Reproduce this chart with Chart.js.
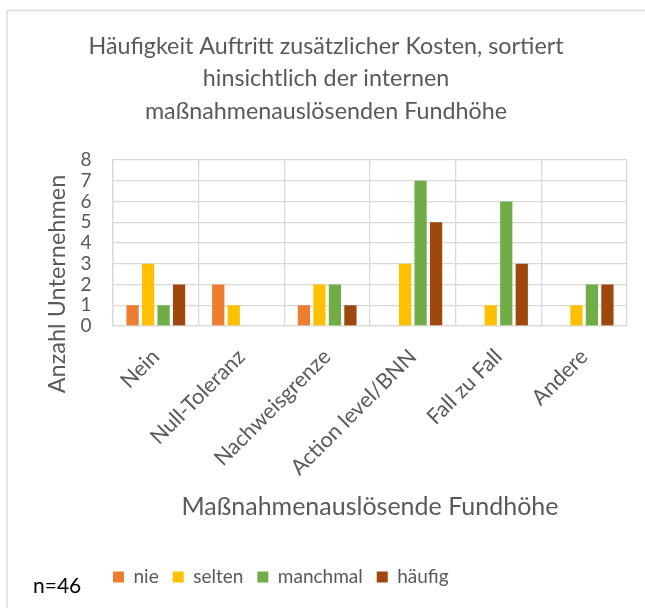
<!DOCTYPE html>
<html>
<head>
<meta charset="utf-8">
<script src="https://cdn.jsdelivr.net/npm/chart.js@4.4.0/dist/chart.umd.min.js"></script>
<style>
	html, body { margin: 0; padding: 0; background: #ffffff; }
	#wrap { width: 645px; height: 608px; position: relative; }
</style>
</head>
<body>
<div id="wrap"><canvas id="chart"></canvas></div>
<script>
var categories = ['Nein', 'Null-Toleranz', 'Nachweisgrenze', 'Action level/BNN', 'Fall zu Fall', 'Andere'];
var nie = [1, 2, 1, 0, 0, 0];
var selten = [3, 1, 2, 3, 1, 1];
var manchmal = [1, 0, 2, 7, 6, 2];
var haeufig = [2, 0, 1, 5, 3, 2];
var yTicks = [0, 1, 2, 3, 4, 5, 6, 7, 8];

var titleLines = ['Häufigkeit Auftritt zusätzlicher Kosten, sortiert', 'hinsichtlich der internen', 'maßnahmenauslösenden Fundhöhe'];
var yTitle = 'Anzahl Unternehmen';
var xTitle = 'Maßnahmenauslösende Fundhöhe';
var note = 'n=46';

var grey = '#595959';
var gridColor = '#D9D9D9';

Chart.defaults.font.family = 'Lato';
Chart.defaults.color = grey;

// frame, y axis title and n= note
var extras = {
	id: 'extras',
	beforeDraw: function(chart) {
		var ctx = chart.ctx;
		ctx.save();
		ctx.strokeStyle = gridColor;
		ctx.lineWidth = 1.3;
		ctx.beginPath();
		ctx.moveTo(7, chart.height);
		ctx.lineTo(7, 10.5);
		ctx.lineTo(chart.width, 10.5);
		ctx.stroke();
		ctx.restore();
	},
	afterLayout: function(chart) {
		// legend starts under the plot, not at the page edge
		var shift = chart.chartArea.left - 14 - chart.legend.left;
		chart.legend.left += shift;
		chart.legend.right += shift;
	},
	afterDraw: function(chart) {
		var ctx = chart.ctx;
		ctx.save();
		ctx.fillStyle = grey;
		ctx.font = '23.5px Lato';
		ctx.textAlign = 'center';
		ctx.textBaseline = 'middle';
		ctx.translate(57, 284);
		ctx.rotate(-Math.PI / 2);
		ctx.fillText(yTitle, 0, 0);
		ctx.restore();

		ctx.save();
		ctx.fillStyle = '#000000';
		ctx.font = '21px Lato';
		ctx.textAlign = 'left';
		ctx.textBaseline = 'alphabetic';
		ctx.fillText(note, 33, 593);
		ctx.restore();
	}
};

var ctx = document.getElementById('chart');
var chart = new Chart(ctx, {
	type: 'bar',
	data: {
		labels: categories,
		datasets: [
			{ label: 'nie', data: nie, backgroundColor: '#ED7D31' },
			{ label: 'selten', data: selten, backgroundColor: '#FFC000' },
			{ label: 'manchmal', data: manchmal, backgroundColor: '#70AD47' },
			{ label: 'häufig', data: haeufig, backgroundColor: '#9E480E' }
		]
	},
	options: {
		responsive: true,
		maintainAspectRatio: false,
		animation: false,
		events: [],
		datasets: {
			bar: { categoryPercentage: 0.724, barPercentage: 0.79 }
		},
		layout: {
			padding: { left: 25, right: 18, top: 10, bottom: 11.5 }
		},
		plugins: {
			title: {
				display: true,
				text: titleLines,
				color: grey,
				font: { size: 23.3, weight: 'normal', lineHeight: 32.5 / 23.3 },
				padding: { top: 20, bottom: 32.5 }
			},
			legend: {
				display: true,
				position: 'bottom',
				align: 'start',
				labels: {
					boxWidth: 11,
					boxHeight: 11,
					padding: 14,
					color: grey,
					font: { size: 19 }
				}
			},
			tooltip: { enabled: false }
		},
		scales: {
			x: {
				grid: { color: gridColor, lineWidth: 1.3, drawTicks: false, offset: true },
				border: { color: gridColor, width: 1.3 },
				ticks: {
					color: grey,
					font: { size: 21.5 },
					maxRotation: 45,
					minRotation: 45,
					padding: 18,
					autoSkip: false
				},
				title: {
					display: true,
					text: xTitle,
					color: grey,
					font: { size: 25 },
					padding: { top: 0, bottom: 31.5 }
				},
				afterFit: function(scale) {
					scale.height = 227.5;
				}
			},
			y: {
				min: 0,
				max: 8,
				afterBuildTicks: function(scale) {
					scale.ticks = yTicks.map(function(v) { return { value: v }; });
				},
				grid: { color: gridColor, lineWidth: 1.3, drawTicks: false },
				border: { color: gridColor, width: 1.3 },
				ticks: {
					color: grey,
					font: { size: 19, lineHeight: 1 },
					padding: 21.5,
					autoSkip: false
				},
				afterFit: function(scale) {
					scale.width = 88;
				}
			}
		}
	},
	plugins: [extras]
});
</script>
</body>
</html>
